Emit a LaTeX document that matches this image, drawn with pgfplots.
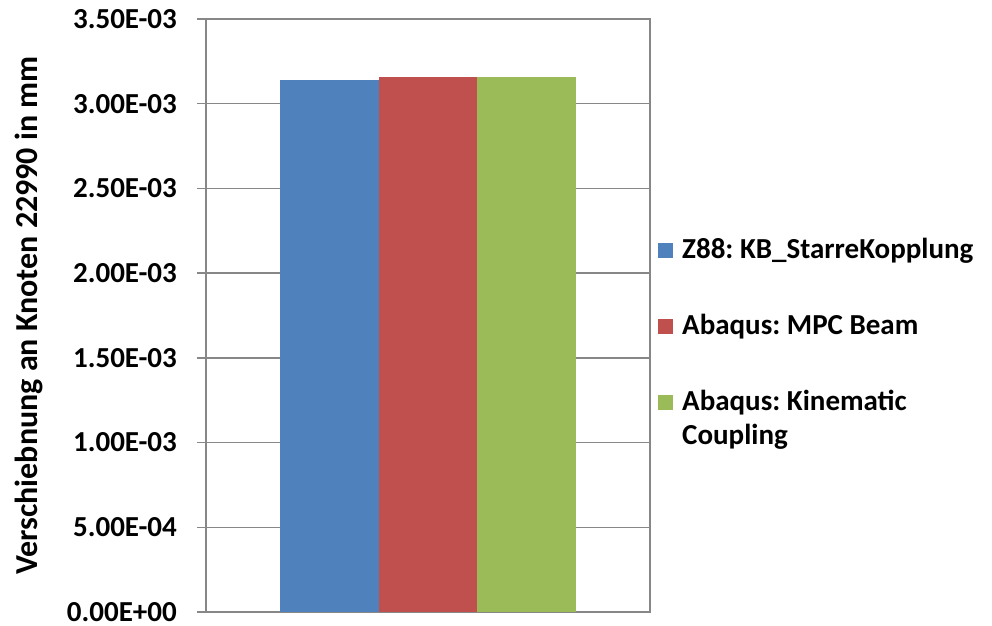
\documentclass[border=0pt]{standalone}
\usepackage{pgfplots}
\pgfplotsset{compat=1.18}
\usepackage{fontspec}
\setmainfont{Carlito}
\definecolor{cblue}{HTML}{4F81BD}
\definecolor{cred}{HTML}{C0504D}
\definecolor{cgreen}{HTML}{9BBB59}
\definecolor{axgray}{HTML}{878787}
\begin{document}
\frenchspacing
\begin{tikzpicture}[x=1pt,y=1pt]
\useasboundingbox (0,0) rectangle (992,625);
\begin{axis}[
  at={(206pt,13pt)}, anchor=south west,
  scale only axis, width=444pt, height=593pt,
  xmin=-1, xmax=1, ymin=0, ymax=0.0035,
  ybar=0pt, bar width=98.7pt,
  xtick=\empty,
  scaled y ticks=false,
  ytick={0,0.0005,0.001,0.0015,0.002,0.0025,0.003,0.0035},
  yticklabels={0.00E+00,5.00E-04,1.00E-03,1.50E-03,2.00E-03,2.50E-03,3.00E-03,3.50E-03},
  tick align=outside, major tick length=9pt,
  tick style={axgray, line width=1.5pt},
  ytick pos=left,
  axis line style={axgray, line width=1.5pt},
  ymajorgrids, grid style={axgray, line width=1.5pt},
  yticklabel style={font=\fontsize{29}{34}\selectfont\bfseries, inner sep=0pt, xshift=-20pt},
  ylabel={Verschiebnung an Knoten 22990 in mm},
  ylabel style={font=\fontsize{32}{38}\selectfont\bfseries, at={(axis description cs:-0.3986,0.5)}, anchor=center, rotate=0},
  legend style={draw=none, fill=none, at={(axis description cs:1.018,0.6307)}, anchor=north west,
    font=\fontsize{29}{34}\selectfont\bfseries, row sep=54pt, column sep=9pt, inner sep=0pt,
    nodes={inner sep=0pt},
    cells={align=left, anchor=north west}},
  legend image code/.code={\fill[#1] (0pt,-4.5pt) rectangle (15pt,-19.5pt);},
]
\addplot[fill=cblue, draw=none] coordinates {(0,0.003140)};
\addplot[fill=cred, draw=none] coordinates {(0,0.003160)};
\addplot[fill=cgreen, draw=none] coordinates {(0,0.003160)};
\legend{Z88: KB\_StarreKopplung, Abaqus: MPC Beam, {Abaqus: Kinematic\\Coupling}}
\end{axis}
\end{tikzpicture}
\end{document}
